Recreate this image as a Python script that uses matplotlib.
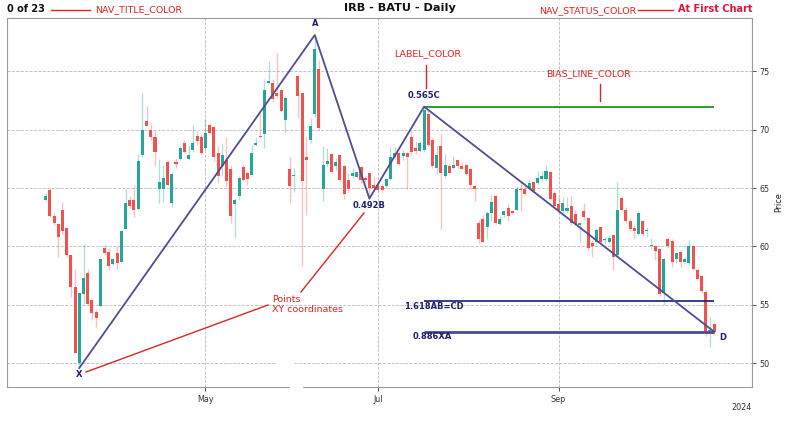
import matplotlib
matplotlib.use("Agg")
import matplotlib.pyplot as plt
from matplotlib.lines import Line2D
from matplotlib.patches import Rectangle
import numpy as np

# ---------------- data ----------------
opens = [64.0, 64.86, 62.6, 61.9, 63.1, 61.57, 59.3, 56.5, 50.0, 55.9,
         57.7, 55.4, 54.35, 54.9, 59.85, 59.5, 58.5, 59.4, 58.7, 61.5,
         64.0, 64.0, 63.2, 67.85, 70.7, 70.0, 69.4, 64.9, 64.9, 67.2,
         63.7, 67.2, 67.5, 68.9, 67.5, 68.3, 69.5, 69.4, 68.4, 70.4,
         70.2, 68.0, 66.85, 67.4, 66.65, 63.6, 64.3, 66.8, 66.3, 66.1,
         68.7, 69.5, 69.6, 74.0, 74.0, 73.1, 73.4, 70.85, 66.6, 66.0,
         74.6, 73.1, 67.7, 69.1, 71.3, 75.2, 64.9, 67.1, 67.9, 66.85,
         67.8, 66.85, 65.65, 66.0, 65.95, 66.8, 65.85, 66.3, 65.3, 65.3,
         65.2, 65.2, 65.75, 67.7, 68.0, 67.75, 68.0, 69.4, 68.4, 68.2,
         68.3, 71.3, 69.1, 66.7, 68.6, 66.0, 66.85, 66.75, 67.4, 66.9,
         66.95, 66.6, 65.2, 62.05, 62.35, 61.7, 62.9, 64.3, 61.95, 62.7,
         63.3, 63.0, 63.15, 64.95, 64.9, 64.95, 65.5, 65.45, 65.75, 65.75,
         66.4, 64.55, 63.6, 63.0, 63.0, 63.5, 62.8, 61.85, 63.0, 62.4,
         60.3, 60.4, 61.7, 60.55, 60.4, 61.0, 59.25, 64.15, 63.15, 62.15,
         61.6, 61.1, 62.15, 61.3, 60.0, 60.05, 59.75, 56.0, 60.6, 60.5,
         58.9, 59.55, 58.7, 58.55, 60.05, 57.95, 57.5, 56.1, 52.7, 53.35]
highs = [64.6, 65.0, 62.85, 62.0, 63.8, 61.6, 59.3, 58.1, 56.0, 60.2,
         58.1, 55.4, 54.6, 59.0, 60.15, 59.85, 59.0, 60.0, 61.4, 64.9,
         64.3, 65.3, 67.9, 73.1, 72.0, 70.6, 70.0, 67.5, 67.0, 67.4,
         66.4, 67.6, 68.6, 69.1, 68.6, 70.4, 69.9, 69.6, 70.9, 70.6,
         70.3, 68.6, 68.85, 69.4, 66.85, 64.15, 66.0, 67.0, 66.4, 68.7,
         69.4, 71.4, 74.3, 75.9, 74.3, 76.6, 73.45, 72.85, 67.7, 66.7,
         74.7, 73.1, 69.4, 71.0, 78.1, 76.0, 68.6, 68.4, 68.0, 67.55,
         67.85, 67.0, 66.3, 66.7, 66.4, 66.85, 66.0, 66.4, 66.0, 65.6,
         65.4, 65.85, 68.6, 68.5, 68.2, 68.3, 68.1, 69.9, 69.0, 69.0,
         72.0, 71.7, 69.4, 68.7, 69.7, 67.9, 67.05, 67.75, 67.5, 67.2,
         67.05, 66.75, 65.3, 62.3, 62.7, 63.0, 64.4, 64.4, 62.6, 63.15,
         63.6, 63.15, 65.2, 65.5, 65.3, 65.75, 65.6, 66.45, 66.45, 66.95,
         66.45, 64.75, 64.2, 64.2, 64.2, 64.3, 63.1, 62.05, 63.75, 62.5,
         60.55, 61.55, 61.75, 60.85, 61.0, 61.1, 65.55, 64.3, 63.4, 62.4,
         61.85, 63.0, 62.3, 61.7, 60.7, 60.15, 59.85, 59.05, 60.8, 60.6,
         59.55, 59.7, 59.1, 60.55, 60.15, 58.1, 57.6, 56.25, 53.95, 53.55]
lows = [63.9, 62.5, 61.85, 59.1, 61.1, 59.1, 55.7, 50.85, 49.6, 55.1,
        55.0, 53.7, 53.1, 54.85, 59.3, 58.0, 58.4, 58.1, 58.7, 61.4,
        63.3, 62.5, 63.1, 67.7, 70.3, 69.1, 66.85, 63.7, 63.85, 65.2,
        63.4, 66.7, 67.4, 68.0, 67.4, 68.1, 68.7, 67.9, 68.3, 69.6,
        67.3, 65.4, 66.0, 65.1, 62.05, 60.7, 64.0, 65.6, 65.3, 66.0,
        68.6, 69.3, 68.4, 73.9, 72.4, 72.7, 71.55, 69.7, 63.7, 64.7,
        71.0, 58.3, 62.7, 68.9, 71.1, 70.0, 63.9, 66.9, 66.3, 66.55,
        65.6, 64.1, 64.7, 65.85, 65.85, 65.4, 65.4, 64.1, 64.85, 64.7,
        64.55, 65.0, 65.7, 67.5, 67.0, 67.4, 64.9, 67.9, 67.9, 68.1,
        68.1, 68.6, 66.7, 66.2, 61.5, 65.9, 66.2, 66.6, 66.75, 66.6,
        66.1, 64.9, 63.9, 60.3, 60.4, 60.6, 62.15, 61.9, 61.85, 62.55,
        62.2, 62.8, 63.1, 63.0, 64.4, 64.8, 64.65, 65.3, 65.6, 65.6,
        64.0, 63.3, 62.9, 62.9, 62.9, 61.85, 61.8, 60.4, 62.3, 59.7,
        59.1, 60.3, 60.3, 60.3, 60.3, 58.0, 59.1, 63.0, 62.0, 61.3,
        60.6, 61.0, 60.9, 60.85, 59.8, 58.85, 55.8, 55.0, 59.9, 58.25,
        58.55, 58.25, 58.55, 58.4, 58.0, 57.1, 56.05, 52.3, 51.4, 52.4]
closes = [64.35, 62.63, 62.0, 60.8, 61.3, 59.23, 56.5, 50.9, 56.0, 57.3,
          55.1, 54.3, 53.9, 58.9, 59.4, 58.3, 58.9, 58.6, 61.3, 63.7,
          63.5, 63.15, 67.3, 70.0, 70.35, 69.4, 68.05, 65.5, 65.85, 65.3,
          66.2, 67.1, 68.4, 68.05, 67.85, 68.85, 69.0, 68.0, 69.7, 69.7,
          67.7, 66.0, 67.85, 65.6, 62.6, 64.0, 65.85, 65.7, 65.8, 68.0,
          68.9, 69.4, 73.4, 74.15, 72.6, 72.9, 71.6, 72.7, 65.2, 66.1,
          72.9, 65.6, 67.4, 70.3, 76.9, 70.15, 67.0, 67.3, 66.4, 67.2,
          65.7, 64.5, 64.9, 66.3, 66.35, 65.7, 65.65, 65.0, 65.0, 64.8,
          64.85, 65.75, 67.7, 68.0, 67.1, 68.0, 67.7, 68.1, 68.2, 68.85,
          71.7, 68.7, 66.9, 67.85, 66.3, 67.0, 66.25, 66.95, 66.85, 66.65,
          66.2, 65.3, 64.9, 60.6, 60.4, 62.9, 63.8, 62.0, 62.35, 63.0,
          62.6, 62.85, 64.9, 64.8, 64.5, 65.45, 64.75, 65.9, 66.0, 66.45,
          64.1, 63.45, 63.15, 63.7, 63.3, 62.0, 61.9, 62.0, 62.5, 59.85,
          60.05, 61.4, 60.4, 60.65, 60.7, 59.1, 63.15, 63.15, 62.15, 61.5,
          61.35, 62.9, 61.1, 61.4, 60.1, 59.65, 55.95, 58.9, 60.05, 58.7,
          59.4, 58.7, 58.9, 60.0, 58.05, 57.25, 56.2, 52.7, 52.85, 52.7]

month_labels = ["May", "Jul", "Sep"]
month_index = [38, 79, 122]

pattern_names = ["X", "A", "B", "C", "D"]
pattern_index = [8, 64, 77, 90, 159]
pattern_price = [49.6, 78.1, 64.1, 71.97, 52.7]

level_names = ["1.618AB=CD", "0.886XA"]
level_price = [55.3, 52.7]
bias_price = 71.97

y_ticks = [50, 55, 60, 65, 70, 75]

# ---------------- figure ----------------
W, H = 800, 425
fig = plt.figure(figsize=(W / 100, H / 100), dpi=100)
fig.patch.set_facecolor("white")
L_px, R_px, T_px, B_px = 7, 752, 18, 387
ax = fig.add_axes([L_px / W, 1 - B_px / H, (R_px - L_px) / W, (B_px - T_px) / H])

UP = "#26a69a"
DOWN = "#ef5350"
NAVY = "#1f1f6e"
PAT = "#4e4e92"
RED = "#e02424"
RFS = 6.8

x = np.arange(len(opens))
o = np.array(opens); h = np.array(highs); l = np.array(lows); c = np.array(closes)
up = c >= o
cols = np.where(up, UP, DOWN)

ax.vlines(x, l, h, colors=cols, linewidth=1.0, alpha=0.35, zorder=2)
body_bottom = np.minimum(o, c)
body_h = np.maximum(np.abs(c - o), 0.08)
ax.bar(x, body_h, bottom=body_bottom, width=0.72, color=cols, linewidth=0, zorder=3)

ax.set_xlim(-9.2, 168.0)
ax.set_ylim(47.97, 79.56)

ax.yaxis.tick_right()
ax.yaxis.set_label_position("right")
ax.set_yticks(y_ticks)
ax.set_xticks(month_index)
ax.set_xticklabels(month_labels)
ax.tick_params(axis="both", labelsize=5.8, colors="#333333", length=3, width=0.6, pad=2.5)
ax.set_ylabel("Price", fontsize=5.8, color="#222222", labelpad=3)
ax.grid(True, linestyle="--", linewidth=0.6, color="#bbbbbb", zorder=0)
ax.set_axisbelow(True)
for s in ax.spines.values():
    s.set_color("#9a9a9a")
    s.set_linewidth(0.8)

# pattern lines
ax.plot(pattern_index, pattern_price, color=PAT, linewidth=1.3, zorder=5)
ax.hlines(bias_price, pattern_index[3], pattern_index[4], colors="#0a8a0a", linewidth=1.2, zorder=4)
ax.hlines(level_price[0], pattern_index[3], pattern_index[4], colors="#1a1a70", linewidth=1.2, zorder=4)
ax.hlines(level_price[1], pattern_index[3], pattern_index[4], colors="#4a4a90", linewidth=2.0, zorder=4)

lbl = dict(fontsize=6, fontweight="bold", color=NAVY, zorder=6)
ax.annotate("X", (pattern_index[0], pattern_price[0]), xytext=(0, -4.5), textcoords="offset points", ha="center", va="center", **lbl)
ax.annotate("A", (pattern_index[1], pattern_price[1]), xytext=(0, 8), textcoords="offset points", ha="center", va="center", **lbl)
ax.annotate("0.492B", (pattern_index[2], pattern_price[2]), xytext=(0, -5), textcoords="offset points", ha="center", va="center", **lbl)
ax.annotate("0.565C", (pattern_index[3], pattern_price[3]), xytext=(0, 8), textcoords="offset points", ha="center", va="center", **lbl)
ax.annotate("D", (pattern_index[4], pattern_price[4]), xytext=(6, -4.5), textcoords="offset points", ha="center", va="center", **lbl)
ax.annotate(level_names[0], (pattern_index[3], level_price[0]), xytext=(-14.5, -4), textcoords="offset points", ha="left", va="center", **lbl)
ax.annotate(level_names[1], (pattern_index[3], level_price[1]), xytext=(-8, -3.5), textcoords="offset points", ha="left", va="center", **lbl)

# ---------- figure-level helpers (pixel coords) ----------
def fx(px):
    return px / W

def fy(py):
    return 1 - py / H

def fline(x0, y0, x1, y1, color=RED, lw=1.0):
    fig.add_artist(Line2D([fx(x0), fx(x1)], [fy(y0), fy(y1)], color=color, linewidth=lw, transform=fig.transFigure, zorder=10))

# white gaps in the reference
fig.add_artist(Rectangle((fx(276), fy(366)), fx(293) - fx(276), fy(361) - fy(366), transform=fig.transFigure, color="white", zorder=9))
fig.add_artist(Rectangle((fx(290), fy(390)), fx(302) - fx(290), fy(384) - fy(390), transform=fig.transFigure, color="white", zorder=9))

# header
fig.text(fx(7), fy(9), "0 of 23", fontsize=7, fontweight="bold", color="#111111", ha="left", va="center")
fline(51, 10, 90, 10)
fig.text(fx(95), fy(9.5), "NAV_TITLE_COLOR", fontsize=RFS, color=RED, ha="left", va="center")
fig.text(fx(400), fy(8.3), "IRB - BATU - Daily", fontsize=8.1, fontweight="bold", color="#111111", ha="center", va="center")
fig.text(fx(636), fy(10.5), "NAV_STATUS_COLOR", fontsize=RFS, color=RED, ha="right", va="center")
fline(638, 10, 673, 10)
fig.text(fx(752), fy(9.5), "At First Chart", fontsize=7, fontweight="bold", color="#dc143c", ha="right", va="center")

# inner annotations
fig.text(fx(428), fy(54), "LABEL_COLOR", fontsize=RFS, color=RED, ha="center", va="center")
fline(426, 65, 426, 88)
fig.text(fx(589), fy(74), "BIAS_LINE_COLOR", fontsize=RFS, color=RED, ha="center", va="center")
fline(600, 84, 600, 101)
fig.text(fx(272.5), fy(299), "Points", fontsize=RFS, color=RED, ha="left", va="center")
fig.text(fx(272.5), fy(310), "XY coordinates", fontsize=RFS, color=RED, ha="left", va="center")
fline(86, 372, 268, 305)
fline(301, 292, 364, 213)

fig.text(fx(752), fy(407), "2024", fontsize=5.8, color="#333333", ha="right", va="center")

fig.savefig("out.png", dpi=100)
